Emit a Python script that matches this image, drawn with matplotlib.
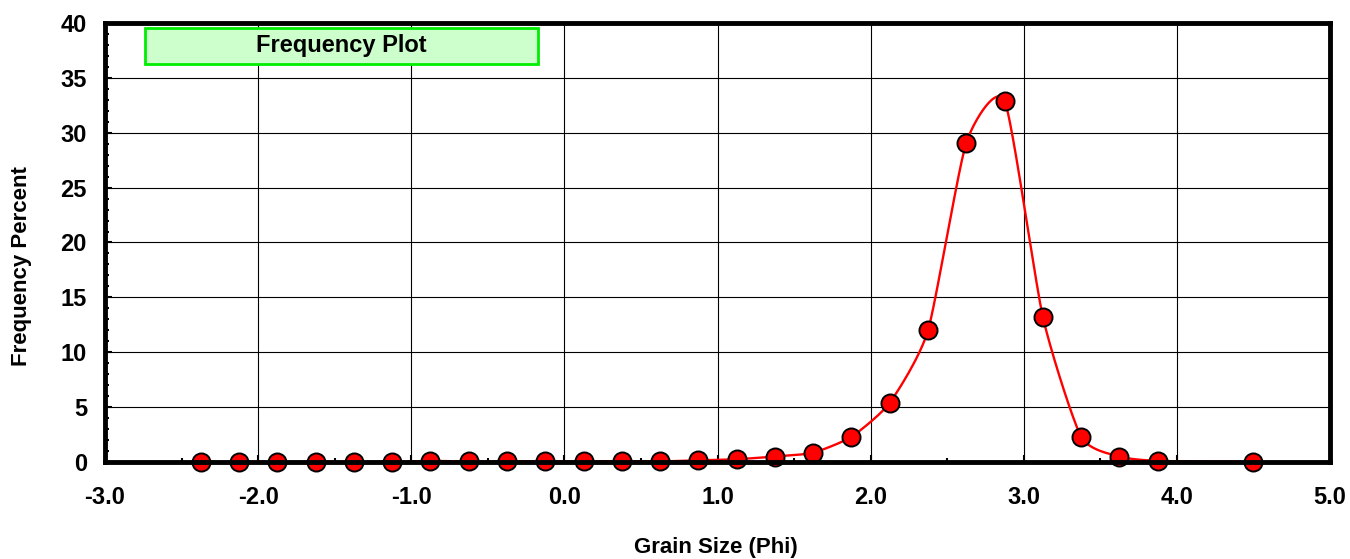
import numpy as np
import matplotlib
matplotlib.use("Agg")
from matplotlib import pyplot as plt
from matplotlib.patches import Rectangle

plt.rcParams['font.family'] = ['Liberation Sans', 'DejaVu Sans']
plt.rcParams['font.weight'] = 'bold'

# grain size class midpoints (phi) and frequency percent
phi = [-2.375, -2.125, -1.875, -1.625, -1.375, -1.125, -0.875, -0.625, -0.375,
       -0.125, 0.125, 0.375, 0.625, 0.875, 1.125, 1.375, 1.625, 1.875, 2.125,
       2.375, 2.625, 2.875, 3.125, 3.375, 3.625, 3.875, 4.5]
freq = [0.0, 0.0, 0.0, 0.0, 0.0, 0.0, 0.1, 0.05, 0.05,
        0.05, 0.05, 0.05, 0.05, 0.15, 0.25, 0.5, 0.85, 2.3, 5.4,
        12.0, 29.1, 32.9, 13.2, 2.3, 0.5, 0.1, 0.0]
x_ticks = [-3.0, -2.0, -1.0, 0.0, 1.0, 2.0, 3.0, 4.0, 5.0]
y_ticks = [0, 5, 10, 15, 20, 25, 30, 35, 40]


# smoothed line through the points (cardinal spline, lower tension)
def smooth(x, y, s=0.6, n=40):
    p = np.column_stack([x, y])
    p = np.vstack([p[0], p, p[-1]])
    t = np.linspace(0, 1, n)[:, None]
    h00 = 2 * t**3 - 3 * t**2 + 1
    h10 = t**3 - 2 * t**2 + t
    h01 = -2 * t**3 + 3 * t**2
    h11 = t**3 - t**2
    out = []
    for i in range(1, len(p) - 2):
        m1 = s * (p[i + 1] - p[i - 1]) / 2
        m2 = s * (p[i + 2] - p[i]) / 2
        out.append(h00 * p[i] + h10 * m1 + h01 * p[i + 1] + h11 * m2)
    c = np.vstack(out)
    return c[:, 0], c[:, 1]


fig = plt.figure(figsize=(13.5, 5.59), dpi=100)
ax = fig.add_axes([105 / 1350, 1 - 462 / 559, 1225 / 1350, 439 / 559])

sx, sy = smooth(phi, freq)
ax.plot(sx, sy, color='red', lw=1.7, zorder=3, clip_on=False)
ax.plot(phi, freq, 'o', ms=13, mfc='red', mec='black', mew=1.4, zorder=4, clip_on=False)

ax.set_xlim(-3, 5)
ax.set_ylim(0, 40)
ax.set_xticks(x_ticks)
ax.set_xticklabels(['%.1f' % v for v in x_ticks])
ax.set_yticks(y_ticks)
ax.set_xticks(np.arange(-3, 5.01, 0.5), minor=True)
ax.set_yticks(np.arange(0, 40.01, 1), minor=True)
ax.grid(True, which='major', color='black', lw=0.8, zorder=1)
for s in ax.spines.values():
    s.set_linewidth(3.5)
    s.set_zorder(5)
ax.tick_params(which='major', direction='in', length=5, width=1.5, labelsize=17)
ax.tick_params(which='minor', direction='in', length=3, width=1.5)
ax.tick_params(axis='y', pad=13)
ax.tick_params(axis='x', pad=17)

ax.set_xlabel('Grain Size (Phi)', fontsize=16, fontweight='bold')
ax.set_ylabel('Frequency Percent', fontsize=16, fontweight='bold')
ax.xaxis.set_label_coords(0.499, -0.194)
ax.yaxis.set_label_coords(-0.068, 0.446)
ax.xaxis.label.set_va('center')
ax.yaxis.label.set_va('center')

ax.add_patch(Rectangle((0.0327, 0.907), 0.321, 0.082, transform=ax.transAxes,
                       facecolor='#ccffcc', edgecolor='#00ee00', lw=2, zorder=6))
ax.text(0.193, 0.948, 'Frequency Plot', transform=ax.transAxes, ha='center',
        va='center', fontsize=17, fontweight='bold', zorder=7)

fig.savefig('out.png', dpi=100)
